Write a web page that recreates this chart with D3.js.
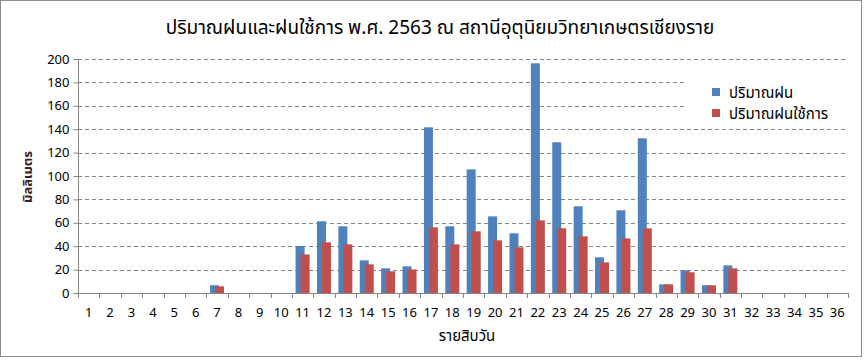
<!DOCTYPE html>
<html><head><meta charset="utf-8">
<script src="https://cdn.jsdelivr.net/npm/d3@7"></script>
<style>
body{margin:0;background:#fff;}
text{font-family:"Tahoma","Noto Sans Thai","Loma","Garuda","Liberation Sans","DejaVu Sans",sans-serif;}
</style></head><body>
<svg id="c" width="864" height="361"></svg>
<script>
const categories = d3.range(1, 37).map(String);
const rain =      [0,0,0,0,0,0,6.6,0,0,0,40.2,61.3,57,27.9,21.1,22.8,141.6,57,105.7,65.5,51,196.3,128.8,74.1,30.5,70.7,132.2,7.4,19.4,6.6,23.6,0,0,0,0,0];
const effective = [0,0,0,0,0,0,5.7,0,0,0,33,43.3,41.6,24.5,18.5,20.2,56.1,41.6,52.7,45,39,62.1,55.3,48.4,26.2,46.7,55.3,7.4,17.7,6.6,21.1,0,0,0,0,0];
const yTicks = [0,20,40,60,80,100,120,140,160,180,200];
const seriesNames = ["ปริมาณฝน","ปริมาณฝนใช้การ"];
const colors = ["#4F81BD","#C0504D"];
const title = "ปริมาณฝนและฝนใช้การ พ.ศ. 2563 ณ สถานีอุตุนิยมวิทยาเกษตรเชียงราย";
const xTitle = "รายสิบวัน";
const yTitle = "มิลลิเมตร";

const svg = d3.select("#c");
const L = 78, R = 848, T = 59, B = 293;

svg.append("rect").attr("x",0.5).attr("y",0.5).attr("width",861).attr("height",356)
  .attr("fill","#fff").attr("stroke","#8c8c8c");

const x = d3.scaleBand().domain(categories).range([L, R]);
const y = d3.scaleLinear().domain([0, 200]).range([B, T]);

// gridlines
svg.append("g").selectAll("line").data(yTicks.filter(d=>d>0)).join("line")
  .attr("x1", L).attr("x2", R)
  .attr("y1", d=>Math.round(y(d))+0.5).attr("y2", d=>Math.round(y(d))+0.5)
  .attr("stroke","#868686").attr("stroke-dasharray","4,3");

// legend background to break gridlines
svg.append("rect").attr("x",686).attr("y",74).attr("width",162).attr("height",48).attr("fill","#fff");

const bw = x.bandwidth();
const barW = 9;
const g = svg.append("g");
g.selectAll("rect.b").data(rain.map((v,i)=>({v,c:categories[i]}))).join("rect")
  .attr("x", d=>x(d.c)+bw/2-7).attr("width", barW)
  .attr("y", d=>y(d.v)).attr("height", d=>B-y(d.v)).attr("fill", colors[0]);
g.selectAll("rect.r").data(effective.map((v,i)=>({v,c:categories[i]}))).join("rect")
  .attr("x", d=>x(d.c)+bw/2-2).attr("width", barW)
  .attr("y", d=>y(d.v)).attr("height", d=>B-y(d.v)).attr("fill", colors[1]);

// y axis
const ya = svg.append("g").attr("transform",`translate(${L+0.5},0)`)
  .call(d3.axisLeft(y).tickValues(yTicks).tickSize(5).tickPadding(4));
ya.select(".domain").attr("stroke","#868686").attr("d",`M-0,${T}V${B}`);
ya.selectAll(".tick line").attr("stroke","#868686");
ya.selectAll("text").attr("font-size",13).attr("fill","#000");

// x axis
const xa = svg.append("g").attr("transform",`translate(0,${B+0.5})`)
  .call(d3.axisBottom(x).tickSize(0).tickPadding(14));
xa.select(".domain").attr("stroke","#868686").attr("d",`M${L},0H${R}`);
xa.selectAll("text").attr("font-size",13).attr("fill","#000");
svg.append("g").selectAll("line").data(categories.concat(["end"])).join("line")
  .attr("x1", (d,i)=>Math.round(L+i*bw)+0.5).attr("x2",(d,i)=>Math.round(L+i*bw)+0.5)
  .attr("y1", B).attr("y2", B+5).attr("stroke","#868686");

// titles
svg.append("text").attr("x",440).attr("y",34).attr("text-anchor","middle")
  .attr("font-size",19).attr("fill","#000").text(title);
svg.append("text").attr("x",467).attr("y",341).attr("text-anchor","middle")
  .attr("font-size",15).attr("fill","#000").text(xTitle);
svg.append("text").attr("transform","translate(32,177) rotate(-90)").attr("text-anchor","middle")
  .attr("font-size",13).attr("font-weight","bold").attr("fill","#3a2020").text(yTitle);

// legend
const lg = svg.append("g");
seriesNames.forEach((n,i)=>{
  lg.append("rect").attr("x",712).attr("y",88+i*21).attr("width",8).attr("height",8).attr("fill",colors[i]);
  lg.append("text").attr("x",729).attr("y",98+i*21).attr("font-size",15).attr("fill","#000").text(n);
});
</script></body></html>
